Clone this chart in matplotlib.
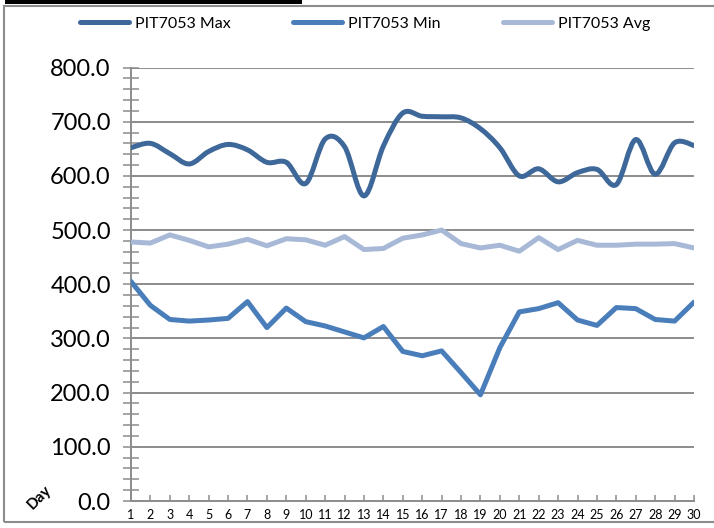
import numpy as np
import matplotlib.pyplot as plt
from matplotlib.path import Path
from matplotlib.patches import PathPatch, Rectangle
from matplotlib.lines import Line2D
from matplotlib.ticker import MultipleLocator, FormatStrFormatter

plt.rcParams['font.family'] = ['Lato', 'DejaVu Sans']

days = list(range(1, 31))
max_vals = [652, 660, 641, 622, 645, 658, 648, 625, 625, 586,
            668, 654, 563, 655, 716, 710, 709, 707, 687, 652,
            600, 613, 589, 606, 612, 584, 667, 603, 661, 656]
min_vals = [405, 361, 335, 332, 334, 337, 368, 320, 356, 331,
            323, 312, 301, 322, 276, 268, 277, 237, 196, 283,
            349, 355, 366, 334, 324, 357, 355, 335, 332, 367]
avg_vals = [478, 476, 491, 481, 469, 474, 483, 471, 484, 482,
            472, 488, 464, 466, 485, 491, 500, 475, 467, 472,
            461, 486, 464, 481, 472, 472, 474, 474, 475, 467]
labels = ['PIT7053 Max', 'PIT7053 Min', 'PIT7053 Avg']
colors = ['#3d6899', '#4a7ebb', '#a7b9d7']


def smooth_path(x, y):
    # cubic bezier through every point, Catmull-Rom style control points
    pts = np.column_stack([x, y]).astype(float)
    padded = np.vstack([pts[0], pts, pts[-1]])
    verts = [pts[0]]
    codes = [Path.MOVETO]
    for i in range(len(pts) - 1):
        p0, p1, p2, p3 = padded[i], padded[i + 1], padded[i + 2], padded[i + 3]
        verts += [p1 + (p2 - p0) / 6, p2 - (p3 - p1) / 6, p2]
        codes += [Path.CURVE4] * 3
    return Path(verts, codes)


fig = plt.figure(figsize=(7.14, 5.28), dpi=100)
ax = fig.add_axes([131 / 714, 1 - 501 / 528, (694 - 131) / 714, (501 - 67.5) / 528])

grid_col = '#8c8c8c'
lw = 3.6

ax.add_patch(PathPatch(smooth_path(days, max_vals), fill=False, lw=lw,
                       edgecolor=colors[0], capstyle='round', joinstyle='round', zorder=3))
ax.plot(days, min_vals, color=colors[1], lw=lw, solid_joinstyle='round',
        solid_capstyle='round', zorder=3)
ax.plot(days, avg_vals, color=colors[2], lw=lw, solid_joinstyle='round',
        solid_capstyle='round', zorder=3)

ax.set_xlim(1, 30)
ax.set_ylim(0, 800)
ax.set_xticks(days)
ax.yaxis.set_major_locator(MultipleLocator(100))
ax.yaxis.set_minor_locator(MultipleLocator(20))
ax.yaxis.set_major_formatter(FormatStrFormatter('%.1f'))

ax.yaxis.grid(True, color=grid_col, lw=1.4)
ax.set_axisbelow(True)
for s in ['top', 'right']:
    ax.spines[s].set_visible(False)
for s in ['left', 'bottom']:
    ax.spines[s].set_color(grid_col)
    ax.spines[s].set_linewidth(1.4)

ax.tick_params(axis='y', which='both', direction='inout', length=11, width=1.1,
               color=grid_col)
ax.tick_params(axis='y', which='major', labelsize=17, pad=9)
ax.tick_params(axis='x', direction='in', length=4, width=1.1, color=grid_col,
               labelsize=9, pad=6)

handles = [Line2D([], [], color=c, lw=lw, solid_capstyle='round') for c in colors]
fig.legend(handles, labels, loc='center', bbox_to_anchor=(365 / 714, 1 - 24 / 528),
           ncol=3, frameon=False, fontsize=11.5, handlelength=3.1,
           handletextpad=0.35, columnspacing=3.9)

fig.text(39 / 714, 1 - 497 / 528, 'Day', rotation=45, ha='center', va='center',
         fontsize=11, fontweight='bold')

# outer frame and the dark strip along the top edge
fig.patches.append(Rectangle((4 / 714, 6 / 528), 1.0, 516 / 528, transform=fig.transFigure,
                             fill=False, edgecolor='#8c8c8c', lw=1.5))
fig.patches.append(Rectangle((5 / 714, 1 - 4 / 528), 297 / 714, 4 / 528,
                             transform=fig.transFigure, facecolor='black',
                             edgecolor='none'))

fig.savefig('out.png', dpi=100)
